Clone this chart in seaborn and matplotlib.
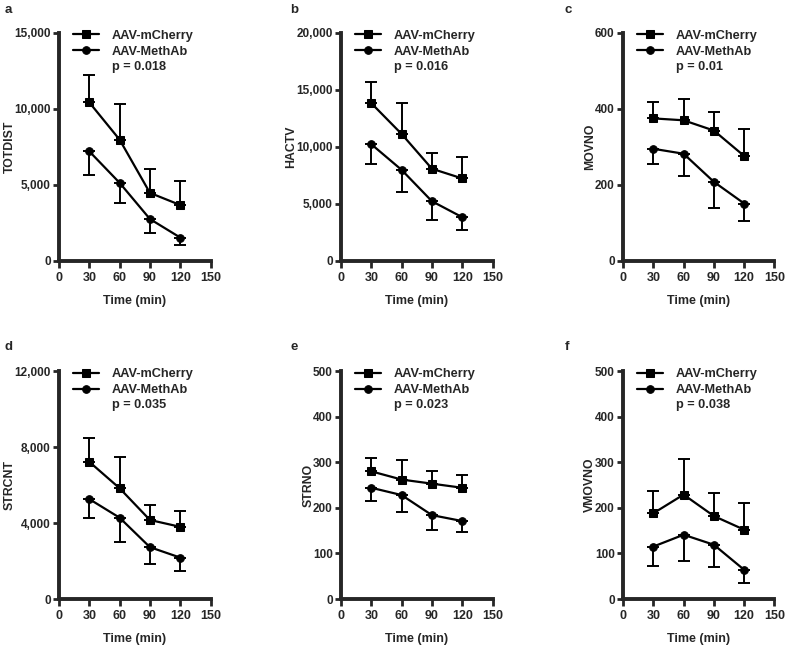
import matplotlib
matplotlib.use("Agg")
import matplotlib.pyplot as plt
from matplotlib.ticker import FuncFormatter
import seaborn as sns
import pandas as pd

# time points (min)
time = [30, 60, 90, 120]
groups = ["AAV-mCherry", "AAV-MethAb"]

# means
totdist_mcherry = [10400, 7950, 4450, 3650]
totdist_methab = [7180, 5110, 2730, 1510]
hactv_mcherry = [13800, 11100, 8050, 7200]
hactv_methab = [10200, 7950, 5200, 3800]
movno_mcherry = [374, 369, 342, 275]
movno_methab = [294, 281, 207, 150]
strcnt_mcherry = [7220, 5830, 4160, 3800]
strcnt_methab = [5260, 4280, 2730, 2180]
strno_mcherry = [280, 262, 253, 244]
strno_methab = [244, 228, 184, 171]
vmovno_mcherry = [188, 229, 182, 152]
vmovno_methab = [115, 141, 119, 64]

# error bars (mCherry drawn up, MethAb drawn down)
totdist_mcherry_err = [1800, 2350, 1600, 1600]
totdist_methab_err = [1550, 1330, 950, 470]
hactv_mcherry_err = [1850, 2700, 1400, 1900]
hactv_methab_err = [1750, 1950, 1650, 1100]
movno_mcherry_err = [42, 57, 49, 71]
movno_methab_err = [41, 58, 68, 47]
strcnt_mcherry_err = [1250, 1620, 780, 840]
strcnt_methab_err = [980, 1280, 890, 700]
strno_mcherry_err = [29, 42, 27, 27]
strno_methab_err = [28, 38, 32, 25]
vmovno_mcherry_err = [48, 78, 50, 58]
vmovno_methab_err = [43, 57, 48, 29]

panel_letters = ["a", "b", "c", "d", "e", "f"]
ylabels = ["TOTDIST", "HACTV", "MOVNO", "STRCNT", "STRNO", "VMOVNO"]
p_values = ["p = 0.018", "p = 0.016", "p = 0.01", "p = 0.035", "p = 0.023", "p = 0.038"]
ymax = [15000, 20000, 600, 12000, 500, 500]
ystep = [5000, 5000, 200, 4000, 100, 100]

means = [(totdist_mcherry, totdist_methab), (hactv_mcherry, hactv_methab),
         (movno_mcherry, movno_methab), (strcnt_mcherry, strcnt_methab),
         (strno_mcherry, strno_methab), (vmovno_mcherry, vmovno_methab)]
errs = [(totdist_mcherry_err, totdist_methab_err), (hactv_mcherry_err, hactv_methab_err),
        (movno_mcherry_err, movno_methab_err), (strcnt_mcherry_err, strcnt_methab_err),
        (strno_mcherry_err, strno_methab_err), (vmovno_mcherry_err, vmovno_methab_err)]

sns.set_style("ticks")
plt.rcParams["font.family"] = ["Liberation Sans", "DejaVu Sans"]
plt.rcParams["font.weight"] = "bold"
plt.rcParams["axes.labelweight"] = "bold"

fig = plt.figure(figsize=(7.87, 6.49), dpi=100)

lefts = [0.075, 0.4333, 0.7916]
bottoms = [0.5986, 0.077]
w, h = 0.1925, 0.3513
letter_x = [0.006, 0.369, 0.717]
letter_y = [0.994, 0.474]

for i in range(6):
    r, c = divmod(i, 3)
    ax = fig.add_axes([lefts[c], bottoms[r], w, h])
    m1, m2 = means[i]
    e1, e2 = errs[i]
    df = pd.DataFrame({
        "time": time + time,
        "value": m1 + m2,
        "group": [groups[0]] * 4 + [groups[1]] * 4,
    })
    # error bars first so lines and markers sit on top
    ax.errorbar(time, m1, yerr=[[0] * 4, e1], fmt="none", ecolor="black",
                elinewidth=1.4, capsize=4, capthick=1.4, zorder=1)
    ax.errorbar(time, m2, yerr=[e2, [0] * 4], fmt="none", ecolor="black",
                elinewidth=1.4, capsize=4, capthick=1.4, zorder=1)
    sns.lineplot(data=df, x="time", y="value", hue="group", style="group",
                 markers={groups[0]: "s", groups[1]: "o"}, dashes=False,
                 palette=["black", "black"], linewidth=1.6, markersize=5.5,
                 markeredgecolor="black", ax=ax, zorder=2)
    old = ax.get_legend()
    handles = old.legend_handles
    old.remove()
    ax.legend(handles, groups, loc="upper left", bbox_to_anchor=(0.093, 1.012),
              frameon=False, borderpad=0, borderaxespad=0, handlelength=2.05,
              handletextpad=1.0, labelspacing=0.32,
              prop={"family": "Liberation Sans", "weight": "bold", "size": 9.2})
    ax.text(0.351, 0.85, p_values[i], transform=ax.transAxes, ha="left",
            va="center", fontsize=9.2, fontweight="bold")

    ax.set_xlim(0, 150)
    ax.set_xticks([0, 30, 60, 90, 120, 150])
    ax.set_ylim(0, ymax[i])
    ax.set_yticks(range(0, ymax[i] + 1, ystep[i]))
    ax.yaxis.set_major_formatter(FuncFormatter(lambda v, p: f"{int(v):,}"))
    ax.set_ylabel(ylabels[i], fontsize=8.8, fontweight="bold", labelpad=-1)
    ax.set_xlabel("Time (min)", fontsize=9, fontweight="bold", labelpad=8)
    sns.despine(ax=ax)
    for s in ["left", "bottom"]:
        ax.spines[s].set_linewidth(2.8)
    ax.tick_params(axis="x", width=2, length=5, labelsize=9, pad=3)
    ax.tick_params(axis="y", width=2, length=4.5, labelsize=8.5, pad=1.5)
    for lab in ax.get_xticklabels() + ax.get_yticklabels():
        lab.set_fontweight("bold")
    fig.text(letter_x[c], letter_y[r], panel_letters[i], fontsize=9.5,
             fontweight="bold", ha="left", va="top")

fig.savefig("out.png", dpi=100)
